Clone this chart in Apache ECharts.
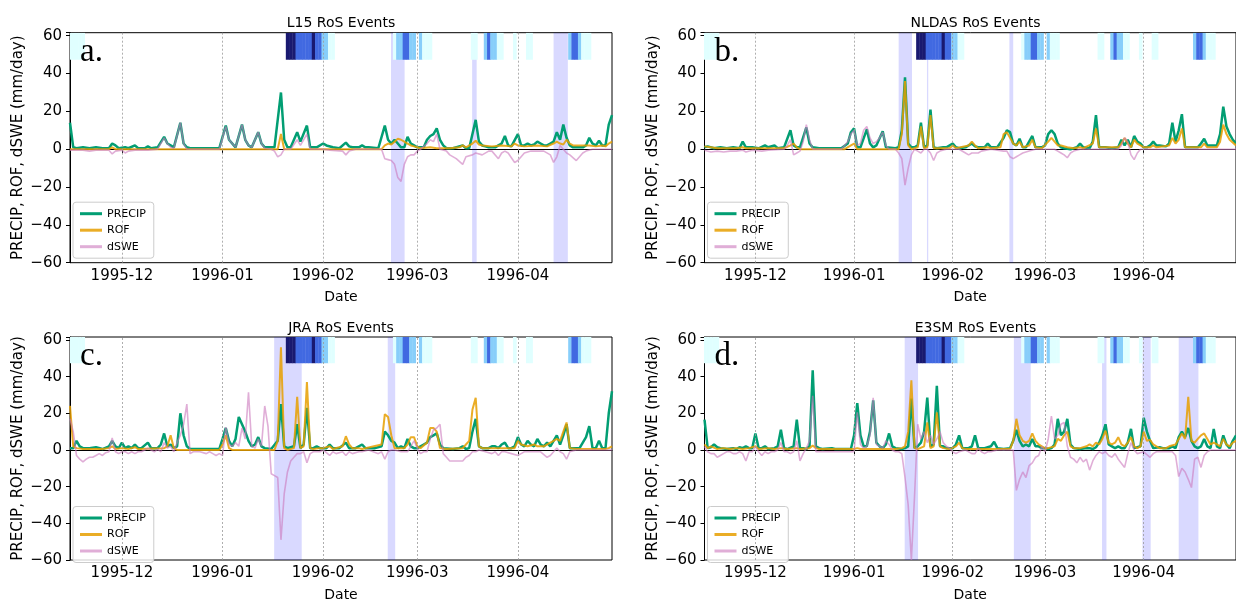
<!DOCTYPE html>
<html>
<head>
<meta charset="utf-8">
<script src="https://cdn.jsdelivr.net/npm/echarts@6/dist/echarts.min.js"></script>
<style>
html, body { margin: 0; background: #fff; }
#main { width: 1236px; height: 603px; }
</style>
</head>
<body>
<div id="main"></div>
<script>
// x values are days counted from 1995-11-15
var monthDays = [16, 47, 78, 107, 138];
var monthLabels = ['1995-12', '1996-01', '1996-02', '1996-03', '1996-04'];
var panelTitles = ['L15 RoS Events', 'NLDAS RoS Events', 'JRA RoS Events', 'E3SM RoS Events'];
var panelLetters = ['a.', 'b.', 'c.', 'd.'];
var seriesNames = ['PRECIP', 'ROF', 'dSWE'];
var seriesColors = ['#029e73', '#e69f00', '#cc78bc'];

var l15Precip = [[0,14],[1,1],[2,0.5],[4,1],[6,0.5],[8,1],[10,0.5],[12,0.5],[13,3],[14,2],[15,0.5],[17,1],[18,0.5],[20,2],[21,0.5],[23,0.5],[24,1.5],[25,0.5],[27,1],[29,6.5],[30,3],[31,2],[32,1],[34,14],[35,3],[36,1],[37,0.5],[46,0.5],[48,12.5],[49,5],[51,1],[53,13],[54,5],[55,2],[56,1],[58,9],[59,3],[60,1],[63,1],[65,30],[66,5],[67,1],[68,1],[70,9],[71,4],[73,12.5],[74,1],[76,1],[78,3],[79,2],[81,1],[83,0.5],[85,3.5],[86,1.5],[87,1],[89,1],[90,2],[91,1],[92,1],[95,0.5],[97,12.5],[98,5],[99,3],[100,5],[101,3],[102,1],[103,1],[104,6.5],[105,3],[106,2],[107,1],[109,1],[110,5],[111,7],[112,8],[113,11],[114,5],[115,2],[116,0.5],[118,0.5],[121,2],[122,0.5],[123,0.5],[125,15.5],[126,4],[127,2],[128,1.5],[129,1],[130,1],[131,1],[132,2],[133,3],[134,7],[135,2],[136,1.5],[138,8],[139,2],[140,2],[141,3],[142,2],[143,2.5],[144,4],[145,3],[146,2],[147,2],[148,3],[149,4],[150,9],[151,5],[152,13],[153,6],[154,2],[155,1],[158,1],[159,2],[160,6],[161,3],[162,2],[163,4.5],[164,2],[165,2],[166,13],[167,18]];
var l15Rof = [[0,0],[12,0],[13,1],[14,0],[64,0],[65,8],[66,0],[96,0],[97,2],[98,3],[99,2.5],[100,4],[101,5.5],[102,5],[103,4],[104,3],[105,2],[106,1.5],[107,1],[108,0.5],[111,1],[113,0.5],[117,0.5],[120,1],[121,2],[122,1],[124,3],[125,4.5],[126,2.5],[127,2],[130,1.5],[133,2],[136,1.5],[137,3],[138,2],[140,1.5],[144,2],[147,1.5],[149,3],[150,4],[151,3],[152,2.5],[153,5],[154,3],[155,2],[158,2],[160,2],[162,1.5],[164,2],[165,1.5],[166,3],[167,4]];
var l15Dswe = [[0,-0.5],[4,-0.5],[6,-1],[8,-0.5],[12,-0.5],[13,-2.5],[14,-1],[16,-0.5],[17,-2],[18,-1],[20,-0.5],[24,-0.5],[27,0],[29,6],[30,3],[31,1],[32,0.5],[34,14],[35,3],[36,0],[46,0],[48,12],[49,5],[51,1],[53,13],[54,5],[55,2],[56,1],[58,9],[59,3],[60,0.5],[62,0],[63,-1],[64,-4],[65,-3],[66,0],[68,0],[70,5],[71,2],[73,8],[74,0],[78,0],[80,-0.5],[84,-1],[85,-3],[86,-1],[88,0],[96,0],[97,-5],[98,-5.5],[99,-6],[100,-8],[101,-15],[102,-17],[103,-8],[104,-4],[105,-3],[106,-3],[107,-1],[108,0],[110,3],[111,5],[112,4],[113,8],[114,0],[116,-1],[117,-3],[119,-5],[121,-8],[122,-4],[124,-3],[125,-2],[127,-3],[129,-1],[130,-1],[132,-5],[133,-2],[134,-1],[135,-2],[137,-7],[138,-6],[139,-4],[140,-2],[142,-1],[144,-1],[146,-1],[148,-3],[149,-7],[150,-4],[151,2],[152,0],[153,-2],[154,-3],[156,-6],[157,-4],[158,-2],[159,-1],[161,0],[167,0]];
var l15Bands = [[98.9,103.1],[123.9,125.3],[149,153.4]];

var nldasPrecip = [[0,1],[1,1.5],[3,0.5],[5,1],[7,0.5],[9,1],[11,0.5],[12,4],[13,1],[15,1],[17,0.5],[19,2],[20,1],[22,2],[23,0.5],[25,1],[27,10],[28,2],[29,1],[30,1],[32,11.5],[33,3],[34,1],[36,0.5],[43,0.5],[45,3],[46,9],[47,11],[48,1],[49,1],[51,10.5],[52,3],[53,1],[54,2],[56,9.5],[57,1],[60,0.5],[61,1],[62,10],[63,38],[64,3],[65,1],[66,1],[67,2],[68,14],[69,1],[70,2],[71,21],[72,1],[73,0.5],[75,1],[76,1],[78,3],[79,1],[80,0.5],[82,1],[84,3],[85,1.5],[86,1],[88,1],[89,3],[90,1],[92,1],[94,6],[95,10],[96,9],[97,3],[98,2],[99,5.5],[100,1],[101,1],[103,7],[104,1],[106,1],[107,2],[108,8],[109,10],[110,8],[111,3],[112,1],[113,0.5],[115,0],[117,1],[118,3],[119,1],[121,0.5],[122,4],[123,18],[124,1],[126,1],[128,0.5],[130,1],[131,5],[132,2],[133,5],[134,1],[135,7],[136,4],[137,3],[138,1],[139,1],[140,2],[141,4],[142,2],[143,2],[145,1.5],[146,3],[147,14],[148,4],[149,10],[150,18.5],[151,1],[153,1],[155,1],[156,3],[157,5.5],[158,2],[160,2],[161,2],[162,8],[163,22.5],[164,12],[165,8],[166,5],[167,3]];
var nldasRof = [[0,1.5],[2,1],[4,0.5],[10,0.5],[12,1],[13,0.5],[25,0.5],[27,2],[28,3],[29,1],[30,0],[44,0],[46,2],[47,3],[48,0],[61,0],[62,8],[63,36],[64,2],[65,0],[67,1],[68,12],[69,0.5],[70,1],[71,18],[72,0.5],[77,0.5],[78,2],[79,0.5],[83,2],[84,4],[85,2],[86,0.5],[89,1],[90,0.5],[93,1],[94,8],[95,9],[96,6],[97,3],[98,2],[99,4],[100,1],[102,2],[103,5],[104,1],[106,0.5],[108,4],[109,6],[110,4],[111,2],[112,2],[114,1],[116,0.5],[118,1],[119,0.5],[122,3],[123,11],[124,1],[130,1],[131,3],[132,6],[133,3],[134,1],[135,5],[136,3],[137,2],[138,1],[140,1],[141,2],[142,1],[146,2],[147,6],[148,3],[149,5],[150,11],[151,1],[156,1],[157,3],[158,1],[161,1],[162,4],[163,13],[164,8],[165,5],[167,2]];
var nldasDswe = [[0,-0.5],[2,-1.5],[4,-1],[6,-1.5],[8,-1],[10,-1],[12,-0.5],[13,-1.5],[15,-0.5],[18,-1],[20,-0.5],[25,0],[26,2],[27,5],[28,-3],[29,-2],[30,-1],[31,4],[32,13],[33,5],[34,0],[43,0],[45,4],[46,8],[47,10],[48,2],[49,3],[50,10],[51,12],[52,6],[53,3],[54,4],[55,6],[56,9],[57,2],[58,0],[60,0],[61,-2],[62,-5],[63,-19],[64,-10],[65,-3],[66,0],[67,-1],[68,-2],[69,0],[70,0],[71,-2],[72,-6],[73,-2],[74,-1],[76,0],[80,0],[82,-2],[83,-3],[84,-2],[86,-2],[87,-1],[90,0],[94,-1],[95,-1],[96,-4],[97,-5],[98,-4],[99,-3],[100,-2],[102,-1],[104,0],[110,0],[111,-1],[112,-2],[113,-3],[114,-4.5],[115,-2],[116,-1],[118,0],[130,0],[131,2],[132,6],[133,4],[134,-3],[135,-5.5],[136,-2],[137,0],[167,0]];
var nldasBands = [[61,65.2],[69.9,70.3],[95.8,97]];

var jraPrecip = [[0,1],[1,1],[2,5],[3,2],[4,1],[6,1],[8,1.5],[10,0.5],[12,2],[13,5],[14,2],[15,1],[16,4],[17,1],[18,2],[19,1],[20,3],[21,1],[22,1],[24,4],[25,1],[27,1],[28,3],[29,9],[30,2],[31,3],[32,1],[33,2],[34,20],[35,8],[36,2],[37,0.5],[46,0.5],[47,6],[48,12],[49,5],[50,2],[51,6],[52,18],[53,14],[54,10],[55,5],[56,2],[57,3],[58,7],[59,2],[60,1],[62,0.5],[64,5],[65,25],[66,2],[67,1],[69,2],[70,14],[71,1],[72,3],[73,23],[74,1],[75,1],[76,2],[77,1],[79,1],[80,3],[81,1],[83,1],[85,4],[86,1],[88,1],[90,3],[91,1],[94,1],[96,2],[97,10],[98,8],[99,5],[100,4],[101,1],[102,2],[103,1],[104,6],[105,2],[106,1],[107,1],[108,2],[109,3],[110,4],[111,7],[112,8],[113,9],[114,3],[115,1],[118,0.5],[120,1],[121,2],[122,0.5],[123,1],[124,10],[125,17],[126,2],[127,1],[129,1],[130,2],[131,2],[132,1],[133,3],[134,4],[135,1],[136,1],[137,2],[138,7],[139,3],[140,2],[141,5],[142,3],[143,2],[144,6],[145,3],[146,2],[147,4],[148,2],[149,5],[150,8],[151,3],[152,8],[153,14],[154,1],[156,1],[157,1],[158,4],[159,7],[160,13],[161,1],[162,1],[163,5],[164,1],[165,1],[166,20],[167,32]];
var jraRof = [[0,24],[1,2],[2,1],[4,0.5],[10,0.5],[12,1],[13,2],[14,0.5],[16,1],[18,0.5],[20,1.5],[21,0.5],[29,1],[30,2],[31,8],[32,1],[33,0],[46,0],[47,3],[48,8],[49,1],[50,0],[63,0],[64,5],[65,56],[66,1],[67,0],[69,1],[70,29],[71,1],[72,2],[73,37],[74,1],[75,0.5],[77,1],[78,1],[80,2],[81,0.5],[84,2],[85,7.5],[86,3],[87,1],[89,1],[90,0.5],[96,3],[97,19.5],[98,18],[99,8],[100,1],[101,1],[103,1],[104,3],[105,7],[106,7],[107,2],[108,1],[110,4],[111,12],[112,12],[113,10],[114,1],[116,0.5],[121,1],[122,3],[123,5],[124,22],[125,28.5],[126,2],[127,1],[129,1],[131,1],[134,1],[137,1],[138,5],[139,3],[141,2],[143,3],[144,2],[146,2],[148,4],[149,5],[150,6],[151,5],[152,10],[153,15],[154,1],[156,0.5],[165,0.5],[166,1],[167,2]];
var jraDswe = [[0,17],[1,10],[2,-3],[3,-5],[4,-6.5],[5,-5],[6,-4],[7,-4],[8,-3],[9,-2],[10,-3],[11,-1.5],[12,-1],[13,6.5],[14,-1],[15,-2],[16,-1],[17,-1],[18,-2],[19,-1],[20,-2],[21,-1],[22,-1],[23,0],[24,1],[25,0],[26,-1],[27,0.5],[28,-1],[29,4],[30,1],[31,2],[32,-1],[33,4],[34,8],[35,14],[36,25],[37,-2],[38,-1],[40,-1],[42,-2],[43,-1],[44,-2],[45,-3],[46,-2],[47,-3],[48,12.5],[49,3],[50,2],[51,4],[52,2],[53,12],[54,6],[55,31.5],[56,2],[57,1],[58,6],[59,2],[60,24],[61,13],[62,-13],[63,-14],[64,-15],[65,-49],[66,-24],[67,-12],[68,-6],[69,-4],[70,-2],[71,-2],[72,-1],[73,-7],[74,-2],[75,-1],[77,-1],[78,0],[80,-3],[81,-1],[82,-2],[84,-1],[85,-3],[86,-1],[87,-2],[89,-1],[90,-1],[92,0],[95,-2],[96,-1],[97,-5],[98,-1],[99,0],[100,0],[102,-1],[104,-1],[105,2],[106,5],[107,1],[108,-2],[109,-1],[110,-1],[111,6],[112,11],[113,12],[114,14],[115,-2],[116,-4],[117,-6],[118,-6],[119,-6],[120,-6],[121,-6],[122,-4],[123,-3],[124,-1],[125,-1],[126,0],[128,-1],[130,-2],[131,-1],[132,-3],[133,-1],[134,-1],[136,-2],[138,-3],[139,-2],[140,-1],[142,-1],[143,-1],[145,-1],[147,-4],[148,-3],[149,-1],[150,1],[151,-1],[152,-2],[153,-5],[154,-1],[156,0],[167,0]];
var jraBands = [[62.9,71.4],[97.9,100.2]];

var e3smPrecip = [[0,16.5],[1,1],[2,1.5],[3,3],[4,1.5],[5,1],[7,0.5],[9,1],[10,0.5],[11,1.5],[12,1],[13,2],[14,1],[15,1],[16,9],[17,1],[18,1],[19,2],[20,0.5],[22,1],[23,2],[24,11],[25,1],[26,0.5],[28,2],[29,16.5],[30,1],[31,1],[32,0.5],[33,2],[34,43.5],[35,2],[36,1],[37,0.5],[40,1],[41,0.5],[46,0.5],[47,8],[48,25.5],[49,8],[50,2],[51,2],[52,10],[53,27],[54,4],[55,2],[56,1],[57,3],[58,9],[59,2],[60,1],[62,0.5],[63,1],[64,2],[65,28],[66,1],[67,2],[68,4],[69,10],[70,28.5],[71,2],[72,3],[73,35],[74,2],[75,2],[76,1],[78,1],[79,3],[80,8],[81,1],[83,1],[84,2],[85,8],[86,1],[88,1],[90,2],[91,4.5],[92,1],[94,0.5],[96,1],[97,5],[98,11],[99,5],[100,2],[101,3],[102,2],[103,6],[104,2],[105,2],[106,1],[107,1],[108,0.5],[109,1],[110,3],[111,17],[112,8],[113,10],[114,17],[115,3],[116,1],[118,0.5],[120,1],[121,1],[122,0.5],[123,1.5],[124,4],[125,8],[126,14],[127,3],[128,2],[129,1],[130,2],[131,1],[132,1],[133,4],[134,11.5],[135,1],[137,2],[138,17.5],[139,10],[140,5],[141,1],[143,1.5],[144,1],[146,1],[147,2],[148,1],[149,7],[150,10],[151,7],[152,12],[153,5],[154,2],[155,1],[156,2],[157,6],[158,2],[159,1],[160,11.5],[161,2],[162,1],[163,8],[164,3],[165,1],[166,5],[167,8]];
var e3smRof = [[0,3],[1,1],[2,2],[4,0.5],[6,1],[8,0.5],[10,1],[12,0.5],[14,1],[16,2],[17,0.5],[20,1],[22,0.5],[24,1],[26,0.5],[29,1],[30,0.5],[33,1],[34,2.5],[35,1],[36,0.5],[40,0.5],[47,0.5],[48,1],[49,0.5],[60,0.5],[62,1],[63,2],[64,10],[65,38],[66,1],[67,0.5],[69,2],[70,15],[71,1],[72,2],[73,20.5],[74,2],[75,1],[77,0.5],[79,2],[80,4],[81,1],[82,0.5],[96,0.5],[97,5],[98,17],[99,8],[100,5],[101,4],[102,5],[103,9],[104,5],[105,3],[106,2],[107,1],[108,1],[110,2],[111,6],[112,5],[113,8],[114,10],[115,2],[116,1],[118,1],[120,2],[121,3],[122,2],[123,4],[124,3],[125,6],[126,10.5],[127,4],[128,3],[129,4],[130,7],[131,3],[132,2],[133,4],[134,7],[135,2],[136,1],[137,2],[138,10],[139,5],[140,5.5],[141,3],[142,2],[143,1],[145,1],[146,2],[148,3],[149,6],[150,9],[151,6],[152,29],[153,5],[154,4],[155,6],[156,8],[157,9],[158,6],[159,3],[160,4],[161,3],[162,2],[163,6],[164,3],[165,2],[166,4],[167,5]];
var e3smDswe = [[0,2],[1,-1],[2,-2],[3,-2],[4,-4],[5,-3],[6,-2],[7,-1],[8,-1],[9,-2],[10,-2],[11,-1],[12,-2],[13,-6],[14,-1],[15,-1],[16,2],[17,-1],[18,-3],[19,-1],[20,-2],[21,-1],[22,-1],[23,0],[24,4],[25,-1],[26,-1],[27,-2],[28,-1],[29,5],[30,-6],[31,-2],[32,1],[33,5],[34,29.5],[35,-1],[36,-1],[38,-1],[40,-1],[43,-1],[45,-1],[47,-1],[48,20.5],[49,3],[50,1],[51,2],[52,8],[53,28.5],[54,3],[55,2],[56,1],[57,5],[58,3],[59,0],[60,-1],[61,-1],[62,-2],[63,-15],[64,-30],[65,-60],[66,-25],[67,14],[68,6],[69,10],[70,4],[71,8],[72,3],[73,6],[74,10],[75,4],[76,2],[77,1],[78,-1],[79,-2],[80,-1],[82,0],[84,-2],[85,-2],[86,1],[87,-1],[88,-2],[89,-1],[90,-1],[92,0],[97,0],[98,-22],[99,-16],[100,-12],[101,-15],[102,-8.5],[103,-7],[104,-4],[105,-3],[106,2],[107,-1],[108,6],[109,18.5],[110,6],[111,8],[112,14],[113,15],[114,2],[115,-4],[116,-5],[117,-7],[118,-4],[119,-6.5],[120,-5],[121,-11],[122,-6],[123,-3],[124,-1],[125,-2],[126,-1],[127,-3],[128,-4],[129,-2],[130,-5],[132,-9.5],[133,-2],[134,4],[135,0],[136,-2],[138,-1],[140,-4],[141,-2],[142,-1],[144,-1],[146,-1],[147,-1],[148,-3],[149,-14.5],[150,-10],[151,-12],[152,-16],[153,-20.5],[154,-5],[155,-4],[156,-9.5],[157,-3],[158,-1],[159,0],[167,0]];
var e3smBands = [[62.9,67.1],[97.2,102.5],[124.9,126.3],[137.6,140.2],[149,155.2]];

// observed event strip at the top: [day, level 1..4]
var stripCells = [[0,1],[1,1],[2,1],[3,1],[4,1],[67,4],[68,4],[69,4],[70,3],[71,3],[72,3],[73,3],[74,3],[75,4],[76,3],[77,3],[78,2],[79,2],[80,1],[81,1],[100,1],[101,2],[102,2],[103,3],[104,3],[105,2],[106,2],[108,2],[109,1],[110,1],[111,1],[124,1],[125,1],[128,2],[129,3],[130,2],[131,2],[132,1],[133,1],[137,1],[141,1],[142,1],[154,2],[155,3],[156,3],[157,2],[158,1],[159,1],[160,1]];
var stripColors = ['#e0ffff', '#87cefa', '#4169e1', '#191970'];

var panels = [
  { precip: l15Precip, rof: l15Rof, dswe: l15Dswe, bands: l15Bands },
  { precip: nldasPrecip, rof: nldasRof, dswe: nldasDswe, bands: nldasBands },
  { precip: jraPrecip, rof: jraRof, dswe: jraDswe, bands: jraBands },
  { precip: e3smPrecip, rof: e3smRof, dswe: e3smDswe, bands: e3smBands }
];

var gridLeft = [70, 704.5, 70, 704.5];
var gridTop = [32.7, 32.7, 337, 337];
var gridW = 542, gridH = 230;
var yMin = -60, yMax = 61.6, stripBase = 47.3;
var font = 'DejaVu Sans';

var chart = echarts.init(document.getElementById('main'));

var option = {
  animation: false,
  backgroundColor: '#fff',
  grid: [], xAxis: [], yAxis: [], legend: [], series: [], graphic: []
};

// legend entries drawn as short bars in the series colours
var legendItems = [
  { name: 'PRECIP', icon: 'rect', itemStyle: { color: seriesColors[0] } },
  { name: 'ROF', icon: 'rect', itemStyle: { color: seriesColors[1], opacity: 0.85 } },
  { name: 'dSWE', icon: 'rect', itemStyle: { color: seriesColors[2], opacity: 0.6 } }
];

panels.forEach(function (p, i) {
  option.grid.push({
    left: gridLeft[i], top: gridTop[i], width: gridW, height: gridH,
    show: true, borderColor: '#000', borderWidth: 1, backgroundColor: 'transparent'
  });
  option.xAxis.push({
    type: 'value', gridIndex: i, min: 0, max: 167,
    axisLine: { lineStyle: { color: '#000', width: 1 } },
    axisTick: { customValues: monthDays, length: 4, lineStyle: { color: '#000' } },
    axisLabel: {
      customValues: monthDays, color: '#000', fontSize: 15, fontFamily: font, margin: 6,
      formatter: function (v) { return monthLabels[monthDays.indexOf(v)] || ''; }
    },
    splitLine: { show: false },
    name: 'Date', nameLocation: 'middle', nameGap: 28,
    nameTextStyle: { color: '#000', fontSize: 14, fontFamily: font }
  });
  option.yAxis.push({
    type: 'value', gridIndex: i, min: yMin, max: yMax, interval: 20,
    axisLine: { show: true, lineStyle: { color: '#000', width: 1 } },
    axisTick: { show: true, length: 4, lineStyle: { color: '#000' } },
    axisLabel: {
      color: '#000', fontSize: 15, fontFamily: font, margin: 8,
      formatter: function (v) {
        if (v % 20 !== 0) return '';
        return v < 0 ? '\u2212' + Math.abs(v) : String(v);
      }
    },
    splitLine: { show: false },
    name: 'PRECIP, ROF, dSWE (mm/day)', nameLocation: 'middle', nameGap: 44,
    nameTextStyle: { color: '#000', fontSize: 15, fontFamily: font }
  });
  option.legend.push({
    data: legendItems, orient: 'vertical',
    left: gridLeft[i] + 3, top: gridTop[i] + 169.5,
    itemWidth: 22, itemHeight: 3, itemGap: 5.5,
    padding: [6, 8, 6, 7],
    borderColor: '#cccccc', borderWidth: 1, borderRadius: 3,
    backgroundColor: 'rgba(255,255,255,0.8)',
    textStyle: { color: '#000', fontSize: 11, fontFamily: font }
  });

  option.series.push({
    name: 'PRECIP', type: 'line', xAxisIndex: i, yAxisIndex: i,
    data: p.precip, symbol: 'none', color: seriesColors[0],
    lineStyle: { width: 2.5, color: seriesColors[0] }, z: 2,
    markArea: {
      silent: true,
      itemStyle: { color: 'rgba(0,0,255,0.15)' },
      data: p.bands.map(function (b) { return [{ xAxis: b[0] }, { xAxis: b[1] }]; })
    },
    markLine: {
      silent: true, symbol: 'none', label: { show: false },
      lineStyle: { color: '#9a9a9a', width: 0.8, type: [2, 2] },
      data: monthDays.map(function (d) { return { xAxis: d }; })
    }
  });
  option.series.push({
    name: 'ROF', type: 'line', xAxisIndex: i, yAxisIndex: i,
    data: p.rof, symbol: 'none', color: seriesColors[1],
    lineStyle: { width: 2, color: seriesColors[1], opacity: 0.85 }, z: 2
  });
  option.series.push({
    name: 'dSWE', type: 'line', xAxisIndex: i, yAxisIndex: i,
    data: p.dswe, symbol: 'none', color: seriesColors[2],
    lineStyle: { width: 1.6, color: seriesColors[2], opacity: 0.6 }, z: 2
  });
  option.series.push({
    type: 'custom', xAxisIndex: i, yAxisIndex: i, data: stripCells, clip: true, z: 3,
    silent: true,
    renderItem: function (params, api) {
      var d = api.value(0), lv = api.value(1);
      var p0 = api.coord([d - 0.5, yMax]);
      var p1 = api.coord([d + 0.5, stripBase]);
      return {
        type: 'rect',
        shape: { x: p0[0], y: p0[1], width: p1[0] - p0[0] + 0.4, height: p1[1] - p0[1] },
        style: { fill: stripColors[lv - 1] }
      };
    }
  });

  option.graphic.push({
    type: 'text', x: gridLeft[i] + gridW / 2, y: gridTop[i] - 9,
    style: { text: panelTitles[i], fill: '#000', font: '14px "DejaVu Sans"', align: 'center', verticalAlign: 'middle' }
  });
  option.graphic.push({
    type: 'text', x: gridLeft[i] + 10, y: gridTop[i] + 3, z: 10,
    style: { text: panelLetters[i], fill: '#000', font: '33px "Liberation Serif"', align: 'left', verticalAlign: 'top' }
  });
});

chart.setOption(option);
</script>
</body>
</html>
